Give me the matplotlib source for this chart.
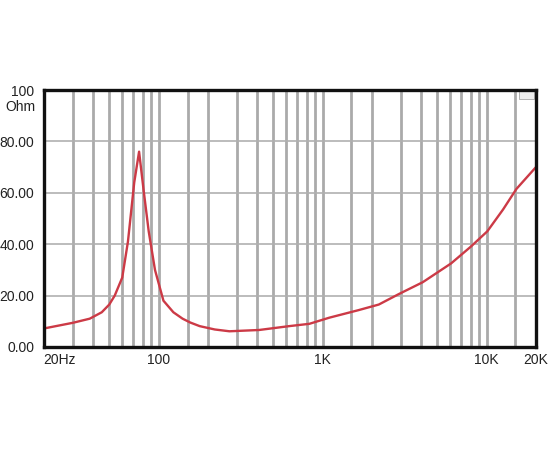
import matplotlib
matplotlib.use("Agg")
import matplotlib.pyplot as plt
from matplotlib.patches import Rectangle

freq_hz = [20, 30, 38, 45, 50, 54, 60, 65, 71, 76, 81, 87, 95, 107, 123, 140, 156,
           178, 220, 270, 410, 625, 830, 1100, 1650, 2200, 2920, 4080, 6070, 8000,
           10100, 12600, 15200, 20000]
impedance_ohm = [7.2, 9.4, 11.0, 13.5, 16.5, 20.0, 27.0, 41.0, 64.0, 76.0, 61.0, 45.0,
                 30.0, 18.0, 13.5, 11.0, 9.5, 8.1, 6.8, 6.1, 6.6, 8.1, 9.0, 11.4, 14.3,
                 16.5, 20.6, 25.2, 32.5, 39.0, 45.0, 53.5, 61.5, 70.0]

vgrid_freqs = [30, 40, 50, 60, 70, 80, 90, 100, 150, 200, 300, 400, 500, 600, 700, 800,
               900, 1000, 1500, 2000, 3000, 4000, 5000, 6000, 7000, 8000, 9000, 10000, 15000]
hgrid_vals = [20, 40, 60, 80]
ytick_vals = [0, 20, 40, 60, 80, 100]
ytick_labels = ["0.00", "20.00", "40.00", "60.00", "80.00", "100"]
y_unit = "Ohm"
xtick_vals = [100, 1000, 10000, 20000]
xtick_labels = ["100", "1K", "10K", "20K"]
x_first_label = "20Hz"

plt.rcParams['font.family'] = ['Liberation Sans', 'DejaVu Sans']

fig = plt.figure(figsize=(5.5, 4.5), dpi=100)
ax = fig.add_axes([0.08, 0.229, 0.8945, 0.571])
ax.set_xscale('log')
ax.set_xlim(20, 20000)
ax.set_ylim(0, 100)

for f in vgrid_freqs:
    ax.axvline(f, color='#aaaaaa', lw=2.0, zorder=1)
for v in hgrid_vals:
    ax.axhline(v, color='#b0b0b0', lw=1.2, zorder=1)

ax.plot(freq_hz, impedance_ohm, color='#cc3a46', lw=1.7, zorder=3,
        solid_joinstyle='round', solid_capstyle='round')

for s in ax.spines.values():
    s.set_color('#111111')
    s.set_linewidth(2.4)
    s.set_zorder(5)

ax.set_yticks(ytick_vals)
ax.set_yticklabels(ytick_labels)
ax.set_xticks(xtick_vals)
ax.set_xticklabels(xtick_labels)
ax.xaxis.set_minor_locator(matplotlib.ticker.NullLocator())
ax.tick_params(axis='both', length=0, labelsize=10, colors='#222222')
ax.tick_params(axis='x', pad=4)
ax.tick_params(axis='y', pad=7)

ax.text(-0.0163, 0.935, y_unit, transform=ax.transAxes, ha='right', va='center',
        fontsize=10, color='#222222')
ax.text(-0.002, -0.025, x_first_label, transform=ax.transAxes, ha='left', va='top',
        fontsize=10, color='#222222')

ax.add_patch(Rectangle((0.965, 0.965), 0.03, 0.03, transform=ax.transAxes,
                       facecolor='#eeeeee', edgecolor='#999999', lw=0.5, zorder=4))

fig.savefig("out.png", dpi=100)
